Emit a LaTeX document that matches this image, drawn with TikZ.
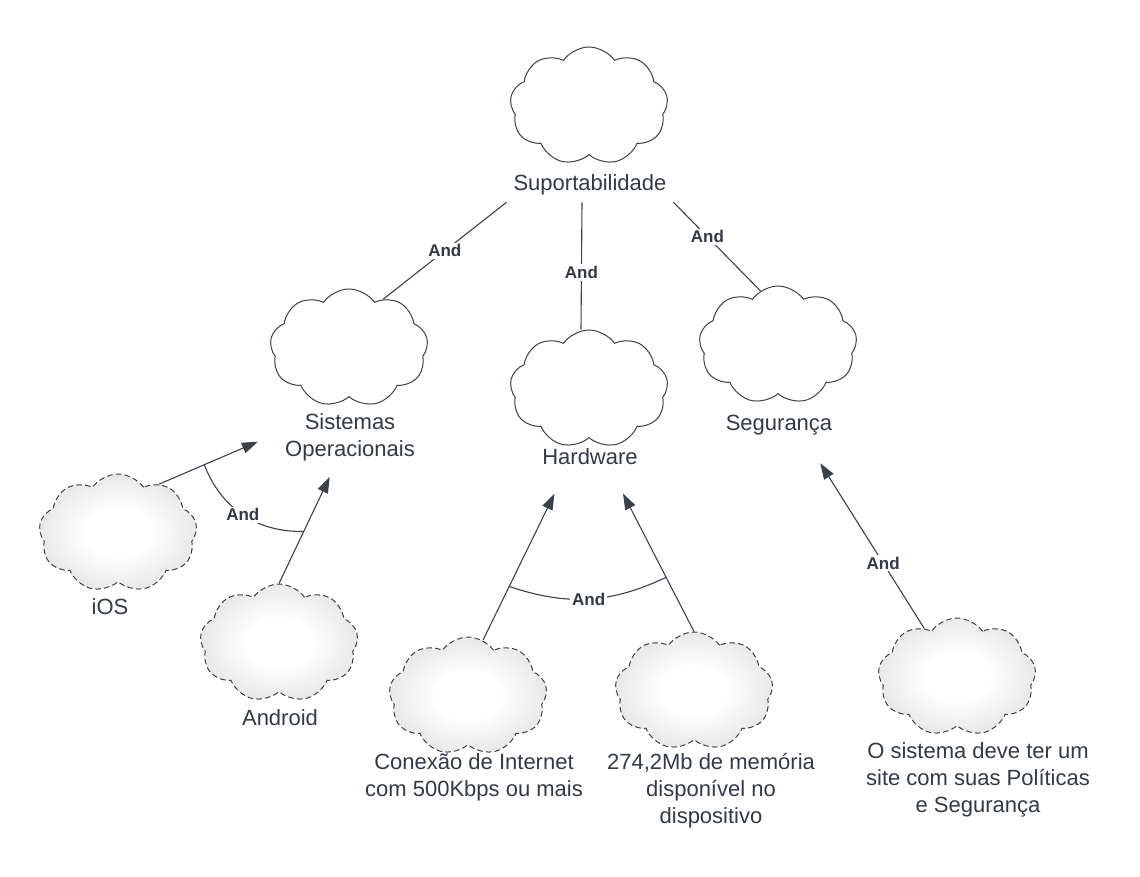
\documentclass[tikz,border=0pt]{standalone}
\usepackage{fontspec}
\setmainfont{Liberation Sans}
\usetikzlibrary{shapes,arrows.meta,positioning,calc}

\definecolor{linha}{HTML}{3A414A}
\definecolor{texto}{HTML}{333A45}
\pgfdeclareradialshading{nuvemsh}{\pgfpoint{0bp}{0bp}}{color(0bp)=(white); color(10bp)=(white); color(50bp)=(black!24)}

\tikzset{
  nuvem/.style={cloud, cloud puffs=9, cloud puff arc=110, cloud ignores aspect,
    minimum width=79pt, minimum height=59pt, inner sep=0pt, draw=linha, line width=0.5pt},
  meta/.style={nuvem, fill=white},
  req/.style={nuvem, dash pattern=on 2.8pt off 1.6pt, shade, shading=nuvemsh},
  rotulo/.style={text=texto, font=\fontsize{11}{13.5}\selectfont, align=center},
  andlbl/.style={font=\fontsize{8.5}{10}\selectfont\bfseries, text=texto, fill=white, inner sep=1pt},
  liga/.style={draw=linha, line width=0.55pt},
  seta/.style={liga, -{Triangle[length=8pt,width=5.5pt]}}
}

\begin{document}
\begin{tikzpicture}[x=0.5pt,y=-0.5pt]
    \useasboundingbox (0,0) rectangle (1140,877);

    % metas
    \node[meta] (sup) at (589,106) {};
    \node[rotulo] (sup-l) at (590,185) {Suportabilidade};
    \node[meta] (so) at (349,348) {};
    \node[rotulo] (so-l) at (350,437) {Sistemas\\Operacionais};
    \node[meta] (hw) at (589,389) {};
    \node[rotulo] (hw-l) at (590,457) {Hardware};
    \node[meta] (seg) at (778,345) {};
    \node[rotulo] (seg-l) at (779,425) {Segurança};

    % requisitos
    \node[req] (ios) at (118,533) {};
    \node[rotulo] (ios-l) at (110,607) {iOS};
    \node[req] (andr) at (279,643) {};
    \node[rotulo] (andr-l) at (280,718) {Android};
    \node[req] (net) at (468,696) {};
    \node[rotulo] (net-l) at (474,777) {Conexão de Internet\\com 500Kbps ou mais};
    \node[req] (mem) at (694,691) {};
    \node[rotulo] (mem-l) at (711,791) {274,2Mb de memória\\disponível no\\dispositivo};
    \node[req] (site) at (957,677) {};
    \node[rotulo] (site-l) at (978,780) {O sistema deve ter um\\site com suas Políticas\\e Segurança};

    \draw[liga] (sup-l.south west) -- node[andlbl] {And} (so.55);
    \draw[liga] ([xshift=-4pt]sup-l.south) -- node[andlbl, pos=0.55] {And} ([xshift=-4pt]hw.north);
    \draw[liga] (sup-l.south east) -- node[andlbl, pos=0.39] {And} (seg.108);

    \draw[seta, shorten >=11pt] (ios.50) -- coordinate[pos=0.38] (so-a) ([yshift=2pt]so-l.west);
    \draw[seta, shorten >=5pt] (andr.north) -- coordinate[pos=0.45] (so-b) ([xshift=-8pt]so-l.south);
    \draw[liga] (so-a) to[bend right=35] node[andlbl] {And} (so-b);

    \draw[seta, shorten >=12pt] (net.75) -- coordinate[pos=0.32] (hw-a) ([xshift=-12.5pt]hw-l.south);
    \draw[seta, shorten >=12pt] (mem.north) -- coordinate[pos=0.34] (hw-b) ([xshift=11pt]hw-l.south);
    \draw[liga] (hw-a) to[bend right=22] node[andlbl] {And} (hw-b);

    \draw[seta, shorten >=12.5pt] (site.124) -- node[andlbl, pos=0.35] {And} ([xshift=14pt]seg-l.south);
\end{tikzpicture}
\end{document}
